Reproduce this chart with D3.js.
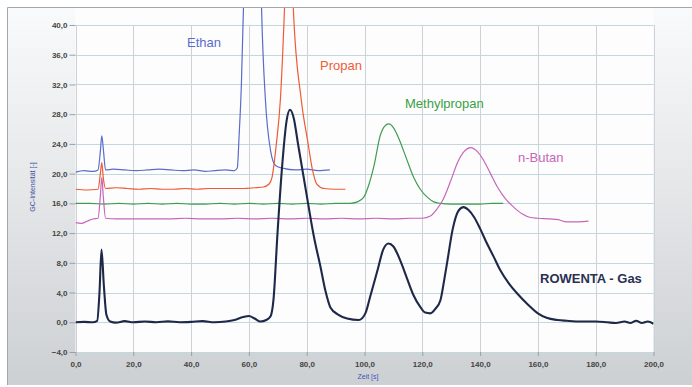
<!DOCTYPE html>
<html>
<head>
<meta charset="utf-8">
<script src="https://cdn.jsdelivr.net/npm/d3@7"></script>
<style>
  body { margin: 0; background: #fff; }
  svg { display: block; font-family: "Liberation Sans", Arial, sans-serif; }
  .tick text { font-size: 8px; font-weight: bold; fill: #444; }
</style>
</head>
<body>
<div id="chart"></div>
<script>
// tick values (labels use a comma as decimal sign)
const xTicks = [0, 20, 40, 60, 80, 100, 120, 140, 160, 180, 200];
const yTicks = [-4, 0, 4, 8, 12, 16, 20, 24, 28, 32, 36, 40];

// series names / colours
const seriesNames = ['Ethan', 'Propan', 'Methylpropan', 'n-Butan', 'ROWENTA - Gas'];
const seriesColors = ['#5a6bcb', '#ee5b36', '#3f9c50', '#c666b9', '#1e2849'];

// [time s, intensity]
const ethan = [[0,20.2],[3,20.4],[6,20.3],[7.8,20.5],[8.6,23],[9.1,25.1],[9.7,23],[10.4,20.5],[13,20.6],[17,20.5],
  [21,20.4],[25,20.5],[29,20.6],[33,20.5],[37,20.4],[41,20.5],[45,20.3],[48,20.4],[52,20.5],[55,20.4],[56,20.8],
  [56.6,25],[57.4,32],[58.1,42],[59,60],[63.5,60],[64.4,42],[65.7,30],[67.5,23.1],[69.2,21.1],[72,20.7],[76,20.5],
  [80,20.6],[84,20.4],[88,20.5]];

const propan = [[0,17.9],[4,17.8],[7.8,17.9],[8.6,20],[9.1,21.5],[9.6,19.5],[10.4,18.0],[14,18.1],[18,18.0],[22,17.9],
  [26,18.0],[30,17.9],[34,17.9],[38,18.0],[42,17.9],[46,18.0],[50,18.0],[54,18.0],[58,18.0],[62,18.1],[65,18.2],
  [67,18.6],[68,19.5],[69.5,24],[70.9,30],[72.3,42],[73.5,56],[74.5,56],[75.4,42],[78.1,30],[80.5,24],[82,20.5],
  [83.5,18.6],[86,18.0],[90,17.9],[93.4,17.9]];

const methylpropan = [[0,16.0],[5,16.0],[10,15.9],[15,16.0],[20,15.9],[25,16.0],[30,15.9],[35,16.0],[40,15.9],[45,15.9],
  [50,16.0],[55,15.9],[60,16.0],[65,15.9],[70,16.0],[75,15.9],[80,16.0],[85,15.9],[90,16.0],[95,16.0],[97.5,16.2],
  [99.7,16.8],[101.5,18.5],[103.2,20.9],[105.5,25.2],[107,26.4],[108.4,26.7],[110,26.2],[111.8,24.8],[113.5,23.1],
  [115.3,21.2],[117,19.5],[119.3,17.9],[121.8,16.8],[124,16.2],[126.3,16.0],[130,15.9],[135,15.9],[140,15.9],
  [144,16.0],[148,16.0]];

const nButan = [[0,13.4],[2,13.3],[4,13.6],[6,13.9],[7.8,14.0],[8.6,17],[9.1,19.5],[9.6,17],[10.4,14.0],[14,13.9],
  [20,13.9],[26,13.9],[32,13.9],[38,14.0],[44,13.9],[50,13.9],[56,14.0],[62,13.9],[68,14.0],[74,13.9],[80,14.0],
  [86,13.9],[92,14.0],[98,13.9],[104,14.0],[110,13.9],[116,14.0],[120,14.0],[122.8,14.3],[125,15.2],[127.3,16.6],
  [129.8,19.0],[132.2,21.5],[134.5,23.0],[136.7,23.5],[139,23.0],[141.2,21.8],[143.6,20.0],[146,18.2],[148.8,16.6],
  [151.6,15.5],[154.5,14.6],[157.4,14.1],[160,14.0],[164.4,13.9],[167,13.8],[170,13.5],[174,13.5],[177.5,13.6]];

const rowenta = [[0,0.0],[3,0.05],[6,0.0],[7.5,0.2],[8.3,4],[9,9.8],[9.8,5],[10.7,1.0],[12,0.1],[14,-0.05],[17,0.15],
  [20,0.0],[24,0.1],[28,0.0],[32,0.12],[36,0.0],[40,0.05],[44,0.15],[48,0.0],[52,0.1],[55,0.3],[58,0.7],[60,0.85],
  [62,0.5],[64,0.1],[66,0.3],[67.5,0.8],[68.5,3.0],[69.9,12.0],[71.5,21],[73,27],[74.2,28.6],[75.5,27.5],[77,24],
  [80.3,16.4],[82.5,11.5],[84.8,7.4],[86.5,4.2],[88.2,2.0],[91,1.0],[94,0.5],[98,0.3],[100.3,1.2],[102,3.5],
  [104.5,7.0],[106.5,9.8],[108.3,10.6],[110,10.2],[112.5,8.2],[114.9,5.7],[117,3.6],[119.4,2.0],[121,1.3],
  [122.8,1.2],[124.5,1.8],[126.3,3.0],[127.5,5.5],[128.7,8.3],[130.5,12.5],[132.5,15.0],[134.3,15.5],[136,15.1],
  [138,14.1],[140,12.6],[142,10.9],[144.6,8.9],[147,7.0],[150,5.2],[153,3.8],[156.5,2.4],[160,1.2],[163,0.6],
  [166.8,0.3],[170,0.2],[175,0.1],[180,0.1],[184,0.0],[187,-0.1],[190,0.1],[192,-0.1],[194,0.2],[196,-0.1],
  [198,0.1],[200,-0.2]];

const seriesData = [ethan, propan, methylpropan, nButan, rowenta];

const W = 692, H = 387;
const plotL = 75.5, plotR = 653.5, plotT = 25, plotB = 352;

const svg = d3.select('#chart').append('svg')
  .attr('width', W)
  .attr('height', H);

const defs = svg.append('defs');
const grad = defs.append('linearGradient')
  .attr('id', 'bg')
  .attr('x1', 0).attr('y1', 0).attr('x2', 0).attr('y2', 1);
grad.append('stop').attr('offset', '0%').attr('stop-color', '#f9fafb');
grad.append('stop').attr('offset', '45%').attr('stop-color', '#e6e8ea');
grad.append('stop').attr('offset', '100%').attr('stop-color', '#cdd0d3');

defs.append('clipPath').attr('id', 'clip')
  .append('rect')
  .attr('x', plotL).attr('y', 8)
  .attr('width', plotR - plotL).attr('height', plotB - 8);

// outer frame
svg.append('rect')
  .attr('x', 7).attr('y', 7)
  .attr('width', W - 7).attr('height', H - 9)
  .attr('fill', 'url(#bg)');
svg.append('path')
  .attr('d', `M7.5,${H - 2}V7.5H${W}`)
  .attr('fill', 'none')
  .attr('stroke', '#a4a7aa');

// plot area (white, reaching up to the frame)
svg.append('rect')
  .attr('x', plotL).attr('y', 8)
  .attr('width', plotR - plotL).attr('height', plotB - 8)
  .attr('fill', '#fdfdfd');

const x = d3.scaleLinear().domain([0, 200]).range([plotL, plotR]);
const y = d3.scaleLinear().domain([-4, 40]).range([plotB, plotT]);

const fmt = d => d3.format('.1f')(d).replace('.', ',');

// grid
svg.append('g')
  .selectAll('line')
  .data(yTicks)
  .join('line')
  .attr('x1', plotL).attr('x2', plotR)
  .attr('y1', d => Math.round(y(d)) + 0.5)
  .attr('y2', d => Math.round(y(d)) + 0.5)
  .attr('stroke', '#c3d7df');

svg.append('g')
  .selectAll('line')
  .data(xTicks)
  .join('line')
  .attr('y1', plotT).attr('y2', plotB)
  .attr('x1', d => Math.round(x(d)) + 0.5)
  .attr('x2', d => Math.round(x(d)) + 0.5)
  .attr('stroke', '#cbd3d8');

// axes
const yAxis = svg.append('g')
  .attr('transform', `translate(${plotL},0)`)
  .call(d3.axisLeft(y).tickValues(yTicks).tickFormat(fmt).tickSize(6).tickPadding(2));

const xAxis = svg.append('g')
  .attr('transform', `translate(0,${plotB})`)
  .call(d3.axisBottom(x).tickValues(xTicks).tickFormat(fmt).tickSize(4).tickPadding(5));

[yAxis, xAxis].forEach(a => {
  a.select('.domain').remove();
  a.selectAll('.tick line').attr('stroke', '#9aa0a5');
});

// axis titles
svg.append('text')
  .attr('transform', 'translate(35,187) rotate(-90)')
  .attr('text-anchor', 'middle')
  .attr('font-size', 7)
  .attr('fill', '#3b4f9a')
  .text('GC-Intensität [-]');

svg.append('text')
  .attr('x', 368).attr('y', 379)
  .attr('text-anchor', 'middle')
  .attr('font-size', 7)
  .attr('fill', '#3d55b8')
  .text('Zeit [s]');

// lines
const line = d3.line()
  .x(d => x(d[0]))
  .y(d => y(d[1]))
  .curve(d3.curveMonotoneX);

const plot = svg.append('g').attr('clip-path', 'url(#clip)');

seriesData.forEach((s, i) => {
  plot.append('path')
    .datum(s)
    .attr('fill', 'none')
    .attr('stroke', seriesColors[i])
    .attr('stroke-width', i === 4 ? 2.1 : 1.2)
    .attr('stroke-linejoin', 'round')
    .attr('d', line);
});

// series labels
const labelPos = [[187, 47], [320, 70], [405, 108], [518, 162], [540, 283]];
svg.append('g')
  .selectAll('text')
  .data(seriesNames)
  .join('text')
  .attr('x', (d, i) => labelPos[i][0])
  .attr('y', (d, i) => labelPos[i][1])
  .attr('font-size', 13)
  .attr('font-weight', (d, i) => i === 4 ? 'bold' : 'normal')
  .attr('fill', (d, i) => i === 2 ? '#3aa046' : (i === 4 ? '#2a3152' : seriesColors[i]))
  .text(d => d);
</script>
</body>
</html>
